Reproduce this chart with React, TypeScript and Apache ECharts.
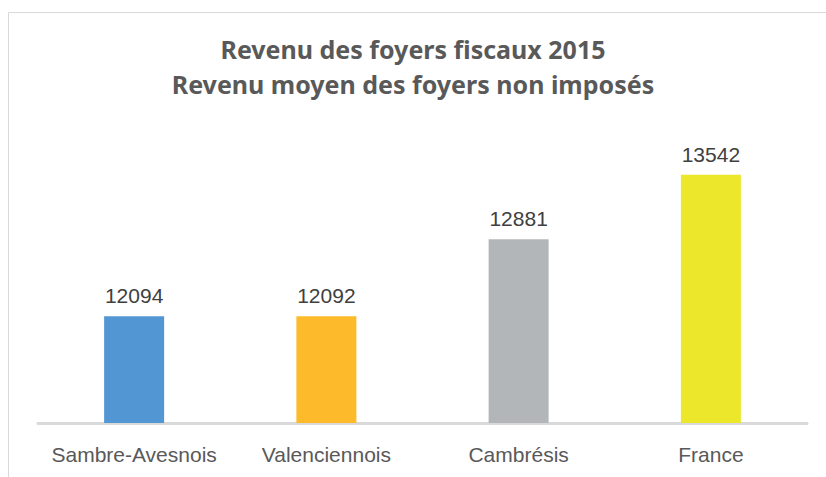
import React, { useEffect, useRef } from "react";
import * as echarts from "echarts";

const categories = ["Sambre-Avesnois", "Valenciennois", "Cambrésis", "France"];
const values = [12094, 12092, 12881, 13542];
const barColors = ["#5296d3", "#fdbb2c", "#b3b6b9", "#ece72a"];
const titleLines = ["Revenu des foyers fiscaux 2015", "Revenu moyen des foyers non imposés"];

export default function App() {
  const ref = useRef<HTMLDivElement>(null);
  useEffect(() => {
    if (!ref.current) return;
    const chart = echarts.init(ref.current, null, { renderer: "svg" });
    chart.setOption({
      animation: false,
      backgroundColor: "#ffffff",
      title: {
        text: titleLines.join("\n"),
        left: "center",
        top: 26,
        textStyle: {
          fontFamily: "Noto Sans",
          fontWeight: "bold",
          fontSize: 25,
          lineHeight: 35,
          color: "#595959",
        },
      },
      graphic: [
        {
          type: "rect",
          shape: { x: 8.5, y: 12.5, width: 900, height: 600 },
          style: { fill: "none", stroke: "#d9d9d9", lineWidth: 1 },
          silent: true,
        },
      ],
      grid: { left: 38, right: 19, top: 130, bottom: 54 },
      xAxis: {
        type: "category",
        data: categories,
        axisLine: { show: true, lineStyle: { color: "#d9d9d9", width: 3 } },
        axisTick: { show: false },
        axisLabel: {
          interval: 0,
          color: "#595959",
          fontFamily: "Liberation Sans",
          fontSize: 21,
          margin: 21,
        },
      },
      yAxis: {
        type: "value",
        min: 11000,
        max: 14000,
        show: false,
        splitLine: { show: false },
      },
      series: [
        {
          type: "bar",
          barWidth: 60,
          data: values.map((v, i) => ({ value: v, itemStyle: { color: barColors[i] } })),
          label: {
            show: true,
            position: "top",
            distance: 10,
            color: "#404040",
            fontFamily: "Liberation Sans",
            fontSize: 21,
          },
        },
      ],
    });
    return () => chart.dispose();
  }, []);
  return (
    <div
      ref={ref}
      style={{ position: "fixed", left: 0, top: 0, width: 826, height: 477 }}
    />
  );
}
